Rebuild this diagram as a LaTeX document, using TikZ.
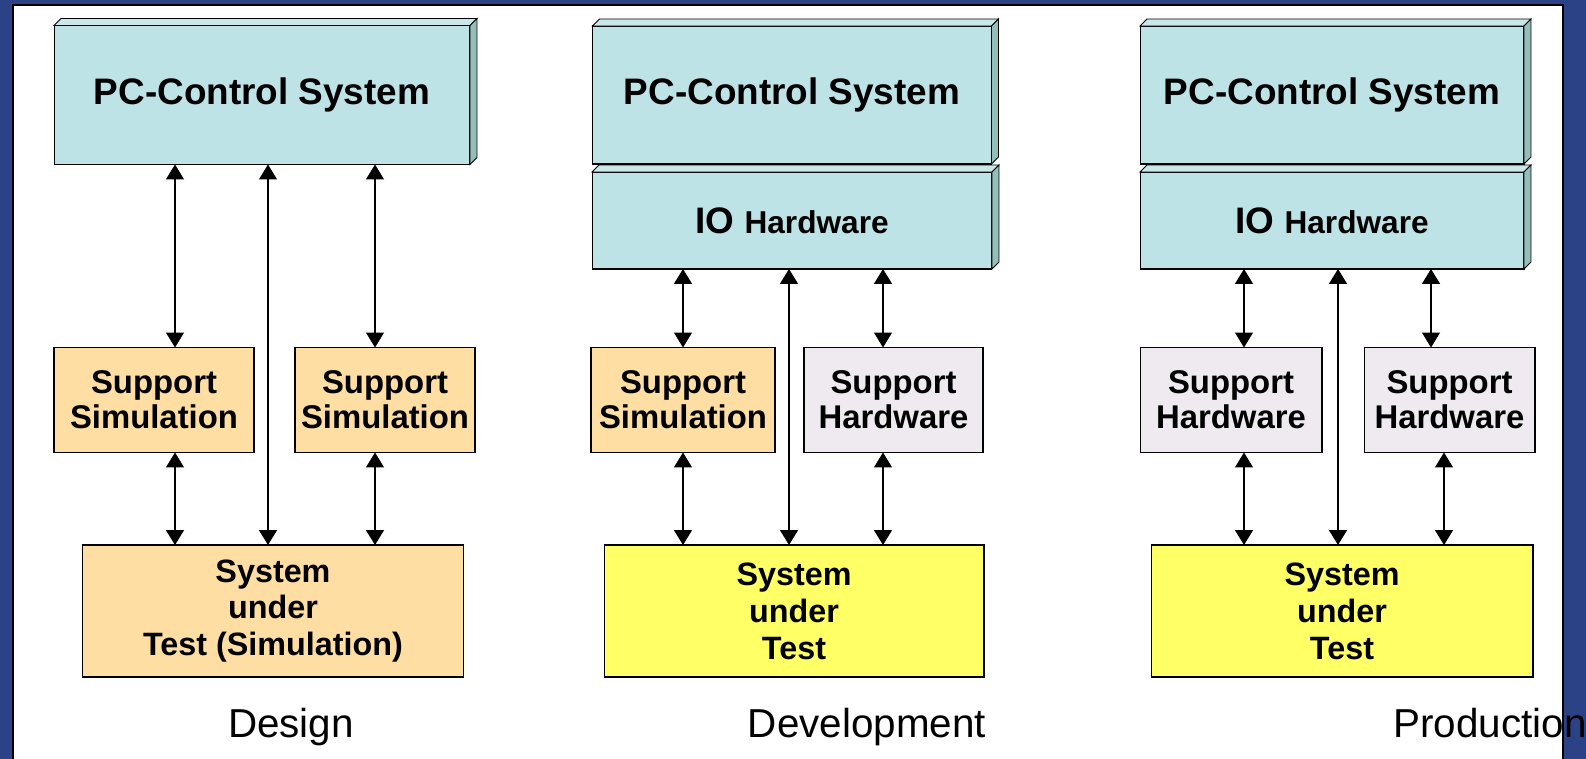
\documentclass[tikz,border=0pt]{standalone}
\usepackage{fontspec}
\setmainfont{Liberation Sans}
\usetikzlibrary{arrows.meta}

\definecolor{framblue}{RGB}{43,66,134}
\definecolor{pcfront}{RGB}{190,227,230}
\definecolor{pctop}{RGB}{202,232,234}
\definecolor{pcside}{RGB}{150,190,185}
\definecolor{simfill}{RGB}{255,222,163}
\definecolor{hwfill}{RGB}{238,234,240}
\definecolor{sutfill}{RGB}{255,255,102}

\tikzset{
  box/.style={draw, line width=0.6pt, inner sep=0pt, outer sep=0pt, align=center},
  pcbox/.style={box, fill=pcfront, font=\fontsize{21}{25}\selectfont\bfseries},
  simbox/.style={box, fill=simfill, minimum height=2.1cm, font=\fontsize{18.7}{20}\selectfont\bfseries},
  hwbox/.style={simbox, fill=hwfill},
  sutbox/.style={box, minimum height=2.64cm, font=\fontsize{18.4}{21}\selectfont\bfseries},
  conn/.style={{Triangle[width=0.36cm,length=0.3cm]}-{Triangle[width=0.36cm,length=0.3cm]}, line width=0.85pt},
  phase/.style={anchor=base, font=\fontsize{23}{27}\selectfont}
}

\newcommand{\hwtext}{\fontsize{18}{20}\selectfont Hardware}

\begin{document}
\begin{tikzpicture}[x=0.02cm, y=-0.02cm]
  \useasboundingbox (0,0) rectangle (1586,759);
  % frame
  \fill[framblue] (0,0) rectangle (1586,759);
  \filldraw[fill=white, draw=black, line width=0.6pt] (13,5) rectangle (1563,770);

  % Design
  \node[pcbox, minimum width=8.32cm, minimum height=2.78cm] (pcA) at (262,95) {PC-Control System};
  \node[simbox, minimum width=4cm] (simA1) at (154,400) {Support\\Simulation};
  \node[simbox, minimum width=3.6cm] (simA2) at (385,400) {Support\\Simulation};
  \node[sutbox, fill=simfill, minimum width=7.64cm] (sutA) at (273,611) {System\\under\\Test (Simulation)};

  % Development
  \node[pcbox, minimum width=7.98cm, minimum height=2.76cm] (pcB) at (792,95) {PC-Control System};
  \node[pcbox, minimum width=8cm, minimum height=1.94cm] (ioB) at (792,220.5) {IO \hwtext};
  \node[simbox, minimum width=3.68cm] (simB) at (683,400) {Support\\Simulation};
  \node[hwbox, minimum width=3.58cm] (hwB) at (893.5,400) {Support\\Hardware};
  \node[sutbox, fill=sutfill, minimum width=7.6cm] (sutB) at (794,611) {System\\under\\Test};

  % Production
  \node[pcbox, minimum width=7.68cm, minimum height=2.76cm] (pcC) at (1332,95) {PC-Control System};
  \node[pcbox, minimum width=7.68cm, minimum height=1.94cm] (ioC) at (1332,220.5) {IO \hwtext};
  \node[hwbox, minimum width=3.64cm] (hwC1) at (1231,400) {Support\\Hardware};
  \node[hwbox, minimum width=3.42cm] (hwC2) at (1449.5,400) {Support\\Hardware};
  \node[sutbox, fill=sutfill, minimum width=7.64cm] (sutC) at (1342,611) {System\\under\\Test};

  % 3D faces
  \foreach \n in {pcA,pcB,ioB,pcC,ioC} {
    \filldraw[fill=pctop, line width=0.5pt] (\n.north west) -- ++(7,-7) -- ([shift={(7,-7)}]\n.north east) -- (\n.north east) -- cycle;
    \filldraw[fill=pcside, line width=0.5pt] (\n.north east) -- ++(7,-7) -- ([shift={(7,-7)}]\n.south east) -- (\n.south east) -- cycle;
  }

  % connectors
  \draw[conn] (pcA.south -| 175,0) -- (simA1.north -| 175,0);
  \draw[conn] (pcA.south -| 375,0) -- (simA2.north -| 375,0);
  \draw[conn] (pcA.south -| 268,0) -- (sutA.north -| 268,0);
  \draw[conn] (simA1.south -| 175,0) -- (sutA.north -| 175,0);
  \draw[conn] (simA2.south -| 375,0) -- (sutA.north -| 375,0);

  \draw[conn] (ioB.south -| 683,0) -- (simB.north -| 683,0);
  \draw[conn] (ioB.south -| 883,0) -- (hwB.north -| 883,0);
  \draw[conn] (ioB.south -| 789,0) -- (sutB.north -| 789,0);
  \draw[conn] (simB.south -| 683,0) -- (sutB.north -| 683,0);
  \draw[conn] (hwB.south -| 883,0) -- (sutB.north -| 883,0);

  \draw[conn] (ioC.south -| 1244,0) -- (hwC1.north -| 1244,0);
  \draw[conn] (ioC.south -| 1431,0) -- (hwC2.north -| 1431,0);
  \draw[conn] (ioC.south -| 1338,0) -- (sutC.north -| 1338,0);
  \draw[conn] (hwC1.south -| 1244,0) -- (sutC.north -| 1244,0);
  \draw[conn] (hwC2.south -| 1444,0) -- (sutC.north -| 1444,0);

  % phase labels
  \node[phase] (design) at (291,738) {Design};
  \node[phase] (devel) at (867,738) {Development};
  \node[phase] (prod) at (1490,738) {Production};
\end{tikzpicture}
\end{document}
